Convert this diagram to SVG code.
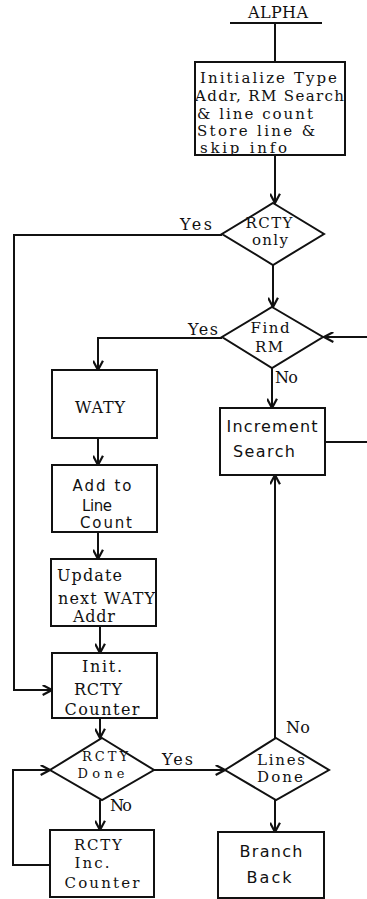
<svg xmlns="http://www.w3.org/2000/svg" width="367" height="899" viewBox="0 0 367 899">
<style>
.s{fill:#fff;stroke:#111;stroke-width:2}
.c{fill:none;stroke:#111;stroke-width:2}
text{font-family:"DejaVu Serif","Liberation Serif",serif;font-size:16px;fill:#111}
.m{text-anchor:middle}
.ss{font-family:"DejaVu Sans","Liberation Sans",sans-serif}
.sm{font-size:13px}
.md{font-size:15px}
</style>
<defs>
<marker id="a" viewBox="0 0 10 10" refX="9.5" refY="5" markerWidth="11" markerHeight="11" markerUnits="userSpaceOnUse" orient="auto">
<path d="M1,0.5 L9.5,5 L1,9.5" fill="none" stroke="#111" stroke-width="2"/>
</marker>
</defs>
<rect width="367" height="899" fill="#fff"/>
<g id="connectors">
<path class="c" d="M230,23 H322"/>
<path class="c" d="M275,23 V62"/>
<path class="c" d="M275,155 V203" marker-end="url(#a)"/>
<path class="c" d="M222,235 H14 V690 H52" marker-end="url(#a)"/>
<path class="c" d="M273,265 V307" marker-end="url(#a)"/>
<path class="c" d="M222,338 H98 V370" marker-end="url(#a)"/>
<path class="c" d="M367,337 H324" marker-end="url(#a)"/>
<path class="c" d="M272,368 V408" marker-end="url(#a)"/>
<path class="c" d="M325,442 H367"/>
<path class="c" d="M275,738 V475" marker-end="url(#a)"/>
<path class="c" d="M98,438 V465" marker-end="url(#a)"/>
<path class="c" d="M98,532 V559" marker-end="url(#a)"/>
<path class="c" d="M100,626 V653" marker-end="url(#a)"/>
<path class="c" d="M100,718 V738" marker-end="url(#a)"/>
<path class="c" d="M154,770 H225" marker-end="url(#a)"/>
<path class="c" d="M100,800 V830" marker-end="url(#a)"/>
<path class="c" d="M50,865 H13 V770 H50" marker-end="url(#a)"/>
<path class="c" d="M275,800 V832" marker-end="url(#a)"/>
</g>
<g id="alpha">
<text class="m" x="278" y="18" textLength="60">ALPHA</text>
</g>
<g id="init">
<rect class="s" x="195" y="62" width="150" height="93"/>
<text class="md" x="200" y="83" textLength="137">Initialize Type</text>
<text class="md" x="195" y="101" textLength="149">Addr, RM Search</text>
<text class="md" x="197" y="119" textLength="116">&amp; line count</text>
<text class="md" x="197" y="136" textLength="118">Store line  &amp;</text>
<text class="md" x="200" y="153" textLength="87">skip info</text>
</g>
<g id="rcty-only">
<polygon class="s" points="273,203 324,234 273,265 222,234"/>
<text class="m md" x="269" y="228" textLength="47">RCTY</text>
<text class="m md" x="270" y="245" textLength="36">only</text>
<text x="180" y="230" textLength="32">Yes</text>
</g>
<g id="find-rm">
<polygon class="s" points="272,307 323,337 272,368 222,337"/>
<text class="m md" x="270" y="333" textLength="39">Find</text>
<text class="m md" x="269" y="352" textLength="28">RM</text>
<text x="188" y="335" textLength="30">Yes</text>
<text x="275" y="383" textLength="23">No</text>
</g>
<g id="increment">
<rect class="s" x="220" y="408" width="105" height="67"/>
<text class="m ss" x="272" y="432" textLength="91">Increment</text>
<text class="m ss" x="264" y="457" textLength="62">Search</text>
</g>
<g id="waty">
<rect class="s" x="52" y="370" width="105" height="68"/>
<text class="m" x="100" y="413" textLength="50">WATY</text>
</g>
<g id="add-line">
<rect class="s" x="52" y="465" width="105" height="67"/>
<text class="m ss md" x="102" y="491" textLength="59">Add to</text>
<text class="m ss md" x="97" y="511" textLength="30">Line</text>
<text class="m ss md" x="106" y="528" textLength="52">Count</text>
</g>
<g id="update">
<rect class="s" x="51" y="559" width="105" height="67"/>
<text x="57" y="581" textLength="65">Update</text>
<text x="58" y="604" textLength="97">next WATY</text>
<text x="73" y="622" textLength="42">Addr</text>
</g>
<g id="init-rcty">
<rect class="s" x="52" y="653" width="105" height="65"/>
<text class="m" x="102" y="672" textLength="40">Init.</text>
<text class="m" x="98" y="695" textLength="48">RCTY</text>
<text class="m" x="102" y="715" textLength="75">Counter</text>
</g>
<g id="rcty-done">
<polygon class="s" points="102,738 154,770 102,800 50,770"/>
<text class="m sm" x="105" y="761" textLength="46">RCTY</text>
<text class="m sm" x="101" y="778" textLength="47">Done</text>
<text x="162" y="765" textLength="31">Yes</text>
<text x="110" y="811" textLength="22">No</text>
</g>
<g id="rcty-inc">
<rect class="s" x="50" y="830" width="104" height="67"/>
<text class="m md" x="98" y="850" textLength="48">RCTY</text>
<text class="m md" x="92" y="868" textLength="35">Inc.</text>
<text class="m md" x="102" y="888" textLength="75">Counter</text>
</g>
<g id="lines-done">
<polygon class="s" points="276,738 329,770 276,800 225,770"/>
<text class="m md" x="281" y="765" textLength="48">Lines</text>
<text class="m md" x="280" y="782" textLength="46">Done</text>
<text x="286" y="733" textLength="24">No</text>
</g>
<g id="branch-back">
<rect class="s" x="218" y="832" width="106" height="66"/>
<text class="m ss" x="271" y="857" textLength="63">Branch</text>
<text class="m ss" x="269" y="883" textLength="45">Back</text>
</g>
</svg>
